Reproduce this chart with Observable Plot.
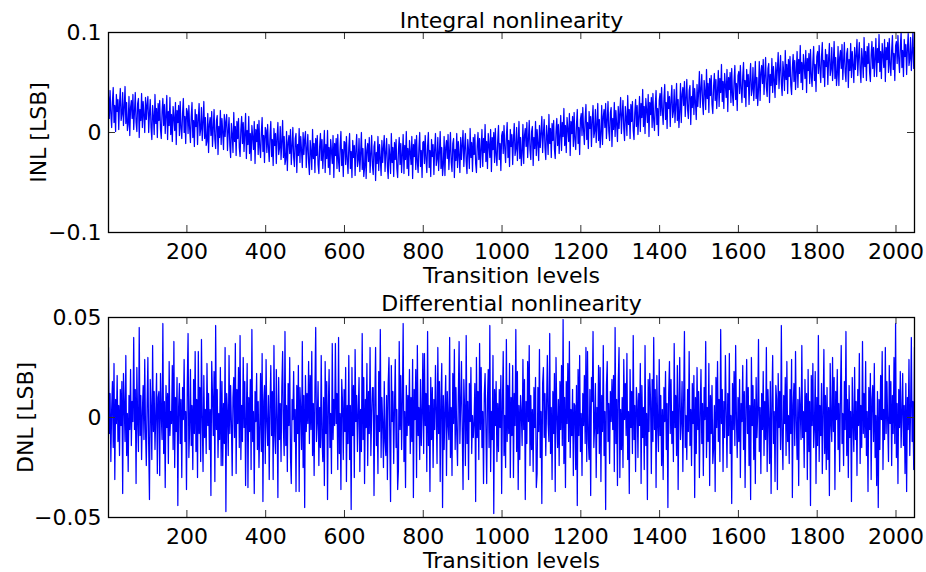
<!DOCTYPE html>
<html><head><meta charset="utf-8">
<script src="https://cdn.jsdelivr.net/npm/d3@7"></script>
<script src="https://cdn.jsdelivr.net/npm/@observablehq/plot@0.6"></script>
<style>body{margin:0;background:#fff}#chart svg{display:block}</style>
</head><body><div id="chart"></div>
<script>
// Transition levels sampled every 2 levels starting at 1
const levelStart = 1, levelStep = 2;

const inl = [
.036,.014,.042,.019,.005,.031,.045,.010,.027,.001,.038,.021,.033,.003,.029,.044,.012,.018,.040,.007,.025,.046,.009,.030,.002,
.008,.036,-.003,.025,.032,.014,.038,.003,.021,.040,.010,.001,.029,.034,-.005,.023,.012,.039,.005,.031,.017,0,.035,.013,.028,
.036,0,.019,.033,.005,-.007,.027,.016,-.002,.038,.009,.024,-.005,.029,.012,.032,.003,-.006,.021,.034,.007,.028,-.001,.017,.037,
-.007,.021,.007,.035,-.002,.018,-.009,.026,.014,.002,.030,-.012,.022,.010,.027,-.003,.031,.004,-.006,.019,.034,0,.016,-.011,.024,
.021,-.001,.027,.004,-.010,.016,.030,-.005,.012,-.014,.023,.006,.018,-.012,.014,.029,-.003,.003,.025,-.008,.010,.031,-.006,.015,-.013,
-.009,.019,-.020,.008,.015,-.003,.021,-.014,.004,.023,-.007,-.016,.012,.017,-.022,.006,-.005,.022,-.012,.014,0,-.017,.018,-.004,.011,
.018,-.018,.001,.015,-.013,-.025,.009,-.002,-.020,.020,-.009,.006,-.023,.011,-.006,.014,-.015,-.024,.003,.016,-.011,.010,-.019,-.001,.019,
-.026,.002,-.012,.016,-.021,-.001,-.028,.007,-.005,-.017,.011,-.031,.003,-.009,.008,-.022,.012,-.015,-.025,0,.015,-.019,-.003,-.030,.005,
.002,-.020,.008,-.015,-.029,-.003,.011,-.024,-.007,-.033,.004,-.013,-.001,-.031,-.005,.010,-.022,-.016,.006,-.027,-.009,.012,-.025,-.004,-.032,
-.027,.001,-.038,-.010,-.003,-.021,.003,-.032,-.014,.005,-.025,-.034,-.006,-.001,-.040,-.012,-.023,.004,-.030,-.004,-.018,-.035,0,-.022,-.007,
.001,-.035,-.016,-.002,-.030,-.042,-.008,-.019,-.037,.003,-.026,-.011,-.040,-.006,-.023,-.003,-.032,-.041,-.014,-.001,-.028,-.007,-.036,-.018,.002,
-.040,-.012,-.026,.002,-.035,-.015,-.042,-.007,-.019,-.031,-.003,-.045,-.011,-.023,-.006,-.036,-.002,-.029,-.039,-.014,.001,-.033,-.017,-.044,-.009,
-.010,-.032,-.004,-.027,-.041,-.015,-.001,-.036,-.019,-.045,-.008,-.025,-.013,-.043,-.017,-.002,-.034,-.028,-.006,-.039,-.021,0,-.037,-.016,-.044,
-.035,-.007,-.046,-.018,-.011,-.029,-.005,-.040,-.022,-.003,-.033,-.042,-.014,-.009,-.048,-.020,-.031,-.004,-.038,-.012,-.026,-.043,-.008,-.030,-.015,
-.003,-.039,-.020,-.006,-.034,-.046,-.012,-.023,-.041,-.001,-.030,-.015,-.044,-.010,-.027,-.007,-.036,-.045,-.018,-.005,-.032,-.011,-.040,-.022,-.002,
-.041,-.013,-.027,.001,-.036,-.016,-.043,-.008,-.020,-.032,-.004,-.046,-.012,-.024,-.007,-.037,-.003,-.030,-.040,-.015,0,-.034,-.018,-.045,-.010,
-.009,-.031,-.003,-.026,-.040,-.014,0,-.035,-.018,-.044,-.007,-.024,-.012,-.042,-.016,-.001,-.033,-.027,-.005,-.038,-.020,.001,-.036,-.015,-.043,
-.032,-.004,-.043,-.015,-.008,-.026,-.002,-.037,-.019,0,-.030,-.039,-.011,-.006,-.045,-.017,-.028,-.001,-.035,-.009,-.023,-.040,-.005,-.027,-.012,
.002,-.034,-.015,-.001,-.029,-.041,-.007,-.018,-.036,.004,-.025,-.010,-.039,-.005,-.022,-.002,-.031,-.040,-.013,0,-.027,-.006,-.035,-.017,.003,
-.034,-.006,-.020,.008,-.029,-.009,-.036,-.001,-.013,-.025,.003,-.039,-.005,-.017,0,-.030,.004,-.023,-.033,-.008,.007,-.027,-.011,-.038,-.003,
.001,-.021,.007,-.016,-.030,-.004,.010,-.025,-.008,-.034,.003,-.014,-.002,-.032,-.006,.009,-.023,-.017,.005,-.028,-.010,.011,-.026,-.005,-.033,
-.020,.008,-.031,-.003,.004,-.014,.010,-.025,-.007,.012,-.018,-.027,.001,.006,-.033,-.005,-.016,.011,-.023,.003,-.011,-.028,.007,-.015,0,
.016,-.020,-.001,.013,-.015,-.027,.007,-.004,-.022,.018,-.011,.004,-.025,.009,-.008,.012,-.017,-.026,.001,.014,-.013,.008,-.021,-.003,.017,
-.018,.010,-.004,.024,-.013,.007,-.020,.015,.003,-.009,.019,-.023,.011,-.001,.016,-.014,.020,-.007,-.017,.008,.023,-.011,.005,-.022,.013,
.019,-.003,.025,.002,-.012,.014,.028,-.007,.010,-.016,.021,.004,.016,-.014,.012,.027,-.005,.001,.023,-.010,.008,.029,-.008,.013,-.015,
-.001,.027,-.012,.016,.023,.005,.029,-.006,.012,.031,.001,-.008,.020,.025,-.014,.014,.003,.030,-.004,.022,.008,-.009,.026,.004,.019,
.035,-.001,.018,.032,.004,-.008,.026,.015,-.003,.037,.008,.023,-.006,.028,.011,.031,.002,-.007,.020,.033,.006,.027,-.002,.016,.036,
.001,.029,.015,.043,.006,.026,-.001,.034,.022,.010,.038,-.004,.030,.018,.035,.005,.039,.012,.002,.027,.042,.008,.024,-.003,.032,
.039,.017,.045,.022,.008,.034,.048,.013,.030,.004,.041,.024,.036,.006,.032,.047,.015,.021,.043,.010,.028,.049,.012,.033,.005,
.021,.049,.010,.038,.045,.027,.051,.016,.034,.053,.023,.014,.042,.047,.008,.036,.025,.052,.018,.044,.030,.013,.048,.026,.041,
.061,.025,.044,.058,.030,.018,.052,.041,.023,.063,.034,.049,.020,.054,.037,.057,.028,.019,.046,.059,.032,.053,.024,.042,.062,
.026,.054,.040,.068,.031,.051,.024,.059,.047,.035,.063,.021,.055,.043,.060,.030,.064,.037,.027,.052,.067,.033,.049,.022,.057,
.061,.039,.067,.044,.030,.056,.070,.035,.052,.026,.063,.046,.058,.028,.054,.069,.037,.043,.065,.032,.050,.071,.034,.055,.027,
.043,.071,.032,.060,.067,.049,.073,.038,.056,.075,.045,.036,.064,.069,.030,.058,.047,.074,.040,.066,.052,.035,.070,.048,.063,
.080,.044,.063,.077,.049,.037,.071,.060,.042,.082,.053,.068,.039,.073,.056,.076,.047,.038,.065,.078,.051,.072,.043,.061,.081,
.045,.073,.059,.087,.050,.070,.043,.078,.066,.054,.082,.040,.074,.062,.079,.049,.083,.056,.046,.071,.086,.052,.068,.041,.076,
.081,.059,.087,.064,.050,.076,.090,.055,.072,.046,.083,.066,.078,.048,.074,.089,.057,.063,.085,.052,.070,.091,.054,.075,.047,
.058,.086,.047,.075,.082,.064,.088,.053,.071,.090,.060,.051,.079,.084,.045,.073,.062,.089,.055,.081,.067,.050,.085,.063,.078,
.093,.057,.076,.090,.062,.050,.084,.073,.055,.095,.066,.081,.052,.086,.069,.089,.060,.051,.078,.091,.064,.085,.056,.074,.094,
.056,.084,.070,.098,.061,.081,.054,.089,.077,.065,.093,.051,.085,.073,.090,.060,.094,.067,.057,.082,.097,.063,.079,.052,.087,
.091,.069,.097,.074,.060,.086,.1,.065,.082,.056,.093,.076,.088,.058,.084,.099,.067,.073,.095,.062,.080,.1,.064,.085
];

const dnl = [
.035,-.008,.012,-.022,.004,.018,-.015,.027,-.031,.009,-.003,.021,-.012,.006,-.019,.014,
-.004,.018,-.038,.022,.006,-.012,.031,-.019,.002,-.027,.011,-.006,.024,-.014,.008,-.002,
.040,-.006,.014,-.033,.025,-.002,-.017,.045,-.009,.011,-.021,.003,.016,-.011,.029,-.007,
-.024,.007,.030,-.014,-.041,.019,.004,-.021,.036,-.007,.013,-.016,.001,.022,-.028,.010,
.013,-.029,.022,.001,-.011,.047,-.018,.008,-.035,.016,-.005,.012,-.023,.028,-.009,.003,
-.003,.026,-.016,.038,-.025,.010,-.007,.020,-.044,.005,.017,-.013,.009,-.030,.015,-.001,
.029,-.012,.003,-.036,.017,.042,-.020,-.005,.024,-.014,.006,-.026,.019,-.008,.033,-.017,
.009,-.030,.033,-.008,.015,-.022,.039,-.001,-.027,.021,-.010,.004,-.018,.027,-.004,.012,
-.016,.004,-.039,.028,.011,-.009,.023,-.032,.046,-.006,.014,-.020,.002,-.011,.025,-.024,
.018,-.024,.007,-.013,.035,-.047,.012,.002,-.019,.031,-.008,.016,-.003,-.029,.010,.020,
-.010,.037,-.028,.014,-.003,.025,-.015,.041,-.021,.006,-.012,.030,-.005,.018,-.034,.001,
.027,-.035,.010,-.007,.019,-.026,.044,-.012,.003,-.038,.013,-.002,.022,-.016,.008,-.025,
-.005,.022,-.017,.032,-.042,.008,.016,-.023,.029,-.002,-.014,.011,-.031,.005,.026,-.009,
.013,-.031,.036,-.009,-.018,.024,.001,-.040,.020,-.011,.007,-.022,.015,.033,-.006,-.019,
.043,-.014,.006,-.027,.017,-.004,.030,-.020,-.033,.009,-.001,.023,-.012,.004,-.037,.016,
-.008,.026,-.037,.015,.003,-.016,.038,-.025,.011,-.045,.021,-.007,.012,-.003,.028,-.013,
.021,-.006,.033,-.019,.007,-.029,.014,.045,-.012,-.002,.018,-.024,.005,-.015,.031,-.010,
-.022,.010,-.034,.028,-.008,.018,-.041,.005,.024,-.015,.002,-.028,.037,-.011,.009,-.004,
.037,-.003,.012,-.026,.040,-.018,.002,-.036,.019,.008,-.021,.014,-.007,.025,-.032,.006,
-.013,.031,-.021,.006,-.046,.025,-.009,.016,-.030,.034,-.002,.011,-.017,.003,.020,-.027,
.004,-.017,.042,-.011,.020,-.033,.009,-.005,.027,-.024,.013,-.008,.035,-.019,.001,.015,
.015,-.039,.007,.035,-.014,.001,-.028,.023,-.007,.044,-.020,.010,-.003,-.025,.018,-.012,
-.019,.011,-.031,.017,.030,-.010,-.042,.026,-.002,.013,-.023,.006,.029,-.015,.004,-.036,
-.026,.038,-.006,.021,-.016,.008,.047,-.022,.003,-.035,.016,-.009,.011,-.004,.024,-.018,
.010,-.012,.029,-.040,.014,-.001,.024,-.030,.036,-.009,.005,-.021,.019,-.014,.002,.032,
-.018,.032,-.004,.012,-.027,.043,-.014,.006,-.037,.020,-.011,.015,-.025,.009,-.006,.026,
.002,-.023,.035,-.008,.018,-.032,.009,.027,-.045,.011,-.016,.004,.021,-.029,.013,-.003,
-.011,.040,-.020,.005,-.029,.022,-.003,.034,-.016,.015,-.008,-.024,.010,.038,-.013,.007,
.028,-.007,-.036,.019,.004,-.024,.041,-.013,.008,-.031,.017,-.002,.025,-.018,.001,-.010,
-.002,.017,-.042,.030,-.010,.013,-.021,.037,-.006,.025,-.015,.003,-.033,.012,.022,-.005,
-.033,.009,.024,-.015,.046,-.027,.003,-.011,.031,-.048,.014,-.004,.018,-.022,.007,-.017,
.014,-.005,.021,-.038,.007,.033,-.019,.001,-.025,.039,-.012,.016,-.008,.027,-.030,.010,
-.009,.026,-.030,.012,-.004,.044,-.017,.023,-.036,.006,-.021,.011,.002,-.014,.029,-.006,
.019,-.041,.008,-.013,.028,-.002,.036,-.024,.011,-.016,.004,-.027,.015,-.005,.020,-.035,
-.028,.015,-.007,.034,-.020,.003,-.043,.017,.025,-.010,.012,-.019,.006,.031,-.003,-.012,
.042,-.018,.005,-.031,.013,-.008,.022,-.037,.030,.001,-.015,.009,-.024,.018,-.006,.026,
-.014,.049,-.023,.010,-.035,.018,-.003,.027,-.012,.038,-.020,.004,-.009,.014,-.029,.007,
.006,-.026,.016,-.044,.024,-.009,.031,-.017,.002,-.029,.012,-.004,.021,-.013,.035,-.022,
.033,-.011,-.021,.014,-.039,.020,.008,.043,-.015,-.004,.017,-.030,.005,-.008,.026,-.018,
.025,-.032,.011,-.007,.036,-.019,.003,-.046,.016,.028,-.012,.007,-.023,.013,-.002,.019,
-.006,.021,-.027,.045,-.013,.009,-.034,.018,.035,-.030,.004,-.016,.010,-.025,.029,-.001,
.017,-.009,.032,-.021,.003,-.038,.024,-.005,.013,-.018,.041,-.011,.006,-.027,.015,.008,
-.020,.012,-.004,.027,-.033,.016,-.010,.005,-.026,.036,-.014,.002,-.041,.019,-.007,.022,
.008,-.028,.019,-.012,.040,-.006,.014,-.035,.021,-.003,-.017,.029,-.009,.011,-.024,.004,
-.031,.015,-.002,.023,-.016,.007,-.045,.012,.028,-.008,.019,-.013,.003,-.022,.037,-.005,
.011,-.019,.026,-.036,.006,.030,-.011,-.002,.018,-.027,.009,.043,-.015,.001,-.021,.014,
-.007,.033,-.014,.004,-.024,.017,-.003,.021,-.040,.010,-.018,.025,-.006,.013,-.030,.002,
.024,-.013,.007,-.029,.015,-.001,.038,-.020,.005,-.012,.027,-.034,.011,-.008,.016,-.023,
-.015,.006,-.037,.020,-.005,.028,-.012,.009,-.022,.044,-.003,.014,-.027,.008,-.010,.031,
.003,-.025,.012,-.009,.032,-.018,.001,-.043,.017,-.006,.023,-.014,.036,-.001,-.020,.010,
-.012,.019,-.030,.007,-.002,.026,-.016,.013,-.035,.004,.029,-.008,.015,-.024,.006,-.041,
.030,-.004,.016,-.021,.009,-.033,.020,-.010,.002,.039,-.017,.005,-.028,.012,-.006,.023,
-.019,.008,-.011,.035,-.027,.014,-.001,-.023,.018,-.038,.007,.031,-.013,.003,-.032,.016,
.009,-.036,.022,-.005,.013,-.016,.046,-.009,-.026,.011,-.003,.020,-.019,.028,-.012,.001,
-.023,.014,-.008,.029,-.040,.006,.017,-.014,.033,-.002,-.021,.009,-.034,.015,.004,-.011,
.036,-.010,.003,-.025,.019,-.007,.012,-.031,.024,-.017,.008,-.044,.021,-.004,.027,-.015,
-.005,.023,-.033,.010,-.014,.041,-.022,.006,-.009,.017,-.028,.002,.034,-.018,.011,-.026,
.015,-.021,.005,-.039,.027,-.003,-.012,.030,-.007,.020,-.036,.013,-.001,.024,-.016,.007,
-.027,.011,.036,-.013,.002,-.024,.018,-.006,.043,-.019,.009,-.030,.016,-.010,.003,-.042,
.020,-.002,-.017,.025,-.011,.008,-.029,.014,-.004,.032,-.023,.006,-.015,.038,-.008,.012,
-.010,.028,-.019,.003,-.037,.015,-.006,.022,-.031,.009,.016,-.012,.027,-.020,.001,-.034,
.013,-.045,.009,-.016,.021,-.001,.033,-.026,.004,-.011,.035,-.008,.018,-.003,-.022,.026,
-.003,.018,-.024,.011,-.008,.030,-.013,.047,-.020,.007,-.033,.014,-.005,.023,-.015,.002,
.022,-.014,.006,-.028,.017,-.037,.010,-.006,.029,-.019,.003,.040,-.012,.008,-.026,.035
];

const xDomain = [1, 2047];
const xTicks = [200, 400, 600, 800, 1000, 1200, 1400, 1600, 1800, 2000];
const inlDomain = [-0.1, 0.1];
const inlTicks = [-0.1, 0, 0.1];
const dnlDomain = [-0.05, 0.05];
const dnlTicks = [-0.05, 0, 0.05];
const titles = ["Integral nonlinearity", "Differential nonlinearity"];
const xLabel = "Transition levels";
const yLabels = ["INL [LSB]", "DNL [LSB]"];

const W = 926, H = 286, ML = 108, MR = 12;
const innerW = W - ML - MR;
const tickLen = 7;
const fmtY = d => d === 0 ? "0" : (d < 0 ? "\u2212" : "") + String(Math.abs(d));
const fmtX = d => String(d);

function panel(values, yDomain, yTicks, title, yLabel, o) {
  const data = values.map((v, i) => ({x: levelStart + i * levelStep, y: v}));
  const innerH = H - o.mt - o.mb;
  return Plot.plot({
    width: W, height: H,
    marginLeft: ML, marginRight: MR, marginTop: o.mt, marginBottom: o.mb,
    x: {domain: xDomain},
    y: {domain: yDomain},
    style: {fontFamily: "DejaVu Sans, sans-serif", fontSize: "22px", color: "black", background: "white"},
    marks: [
      Plot.line(data, {x: "x", y: "y", stroke: "#0000ff", strokeWidth: 1.25, clip: true}),
      Plot.ruleX(xTicks, {x: d => d, insetTop: innerH - tickLen, stroke: "#333"}),
      Plot.ruleX(xTicks, {x: d => d, insetBottom: innerH - tickLen, stroke: "#333"}),
      Plot.ruleY(yTicks, {y: d => d, insetRight: innerW - tickLen, stroke: "#333"}),
      Plot.ruleY(yTicks, {y: d => d, insetLeft: innerW - tickLen, stroke: "#333"}),
      Plot.frame({stroke: "black", strokeWidth: 1.3}),
      Plot.axisX({ticks: xTicks, tickSize: 0, tickPadding: 11, tickFormat: fmtX, label: null, fontSize: 22}),
      Plot.axisY({ticks: yTicks, tickSize: 0, tickPadding: 7, tickFormat: fmtY, label: null, fontSize: 22}),
      Plot.text([title], {text: d => d, frameAnchor: "top", lineAnchor: "bottom", dy: o.titleDy, fontSize: 22}),
      Plot.text([xLabel], {text: d => d, frameAnchor: "bottom", lineAnchor: "bottom", dy: 50, fontSize: 22}),
      Plot.text([yLabel], {text: d => d, frameAnchor: "left", rotate: -90, lineAnchor: "bottom", textAnchor: "middle", dx: o.ylDx, fontSize: 22})
    ]
  });
}

const chart = document.getElementById("chart");
chart.append(panel(inl, inlDomain, inlTicks, titles[0], yLabels[0], {mt: 32, mb: 54, titleDy: -5, ylDx: -63}));
chart.append(panel(dnl, dnlDomain, dnlTicks, titles[1], yLabels[1], {mt: 31, mb: 55, titleDy: -7, ylDx: -76}));
</script>
</body></html>
